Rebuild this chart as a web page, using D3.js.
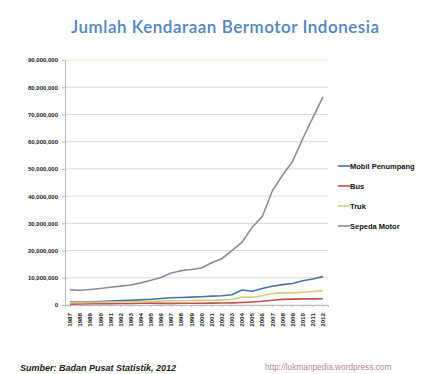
<!DOCTYPE html>
<html lang="en">
<head>
<meta charset="utf-8">
<script src="https://d3js.org/d3.v7.min.js" charset="utf-8"></script>
<style type="text/css">
	body{
		margin:0;
		background:#fff;
	}
</style>
</head>
<body>
<script type="text/javascript">
	//data from BPS, vehicles per year
	var years = ["1987","1988","1989","1990","1991","1992","1993","1994","1995","1996","1997","1998","1999",
		"2000","2001","2002","2003","2004","2005","2006","2007","2008","2009","2010","2011","2012"];
	var mobilPenumpang = [1170103,1073106,1182253,1313210,1494607,1590750,1700454,1890340,2107299,2409088,2639523,2769375,2897803,
		3038913,3261807,3403433,3792510,5494034,5076230,6035291,6877229,7489852,7910407,8891041,9548866,10432259];
	var bus = [303378,385731,434903,468550,504720,539943,568490,651608,688525,595419,611402,626680,644667,
		666280,687770,714222,798079,933199,1110255,1350047,1736087,2059187,2160973,2250109,2254406,2273821];
	var truk = [953694,892651,952391,1024296,1087940,1126262,1160539,1251986,1336177,1434783,1548397,1586721,1628531,
		1707134,1759547,1865398,2047022,2920828,2875116,3398956,4234236,4452343,4452343,4687789,4958738,5286061];
	var sepedaMotor = [5554305,5419531,5722291,6082966,6494871,6941000,7355114,8134903,9076831,10090805,11735797,12628991,13053148,
		13563017,15492148,17002130,19976376,23061021,28531831,32528758,41955128,47683681,52767093,61078188,68839341,76381183];
	var yTicks = [0,10000000,20000000,30000000,40000000,50000000,60000000,70000000,80000000,90000000];
	var seriesNames = ["Mobil Penumpang","Bus","Truk","Sepeda Motor"];
	var seriesValues = [mobilPenumpang, bus, truk, sepedaMotor];
	var colors = ["#4a6fa5","#c0504d","#cfcf7c","#8b8b9c"];

	var svg = d3.select('body')
		.append('svg')
		.attr('width', 437)
		.attr('height', 374);

	// plot box (don't use "top", it's window.top)
	var plotL = 65, plotR = 328, plotT = 60, plotB = 305;

	var x = d3.scaleBand()
		.domain(years)
		.range([plotL, plotR]);
	var y = d3.scaleLinear()
		.domain([0, 90000000])
		.range([plotB, plotT]);

	//title
	svg.append('text')
		.attr('x', 225)
		.attr('y', 33)
		.attr('text-anchor', 'middle')
		.attr('textLength', 308)
		.style('font-family', 'Lato, sans-serif')
		.style('font-size', '17px')
		.style('font-weight', '600')
		.style('fill', '#4f84bd')
		.text('Jumlah Kendaraan Bermotor Indonesia');

	//gridlines
	svg.append('g').selectAll('line')
		.data(yTicks)
		.enter()
		.append('line')
		.attr('x1', plotL)
		.attr('x2', plotR)
		.attr('y1', function(d) {return y(d);})
		.attr('y2', function(d) {return y(d);})
		.style('stroke', function(d) {return d == 90000000 ? '#f0dcc8' : '#d9d9d9';})
		.style('stroke-width', 1);

	// y axis
	var yAxis = d3.axisLeft(y)
		.tickValues(yTicks)
		.tickSize(3)
		.tickFormat(function(d) {return d == 0 ? "0" : d3.format(",")(d);});
	var gy = svg.append('g')
		.attr('transform', 'translate(' + plotL + ',0)')
		.call(yAxis);
	gy.select('.domain').style('stroke', '#bbb');
	gy.selectAll('.tick line').style('stroke', '#bbb');
	gy.selectAll('text')
		.attr('x', -7)
		.style('font-family', 'Liberation Sans, sans-serif')
		.style('font-size', '6px')
		.style('font-weight', 'bold')
		.style('fill', '#222');

	// x axis
	var xAxis = d3.axisBottom(x).tickSize(2);
	var gx = svg.append('g')
		.attr('transform', 'translate(0,' + plotB + ')')
		.call(xAxis);
	gx.select('.domain').style('stroke', '#bbb');
	gx.selectAll('.tick line').style('stroke', '#bbb');
	gx.selectAll('text')
		.attr('transform', 'rotate(-90)')
		.attr('x', -8)
		.attr('y', 0)
		.attr('dy', '0.35em')
		.attr('text-anchor', 'end')
		.style('font-family', 'Liberation Sans, sans-serif')
		.style('font-size', '6.2px')
		.style('font-weight', 'bold')
		.style('fill', '#222');

	var line = d3.line()
		.x(function(d, i) {return x(years[i]) + x.bandwidth() / 2;})
		.y(function(d) {return y(d);});

	svg.append('g').selectAll('path')
		.data(seriesValues)
		.enter()
		.append('path')
		.attr('d', line)
		.style('fill', 'none')
		.style('stroke', function(d, i) {return colors[i];})
		.style('stroke-width', 1.6);

	//legend
	var legend = svg.append('g').selectAll('g')
		.data(seriesNames)
		.enter()
		.append('g')
		.attr('transform', function(d, i) {return 'translate(338,' + (166 + i * 20) + ')';});
	legend.append('line')
		.attr('x1', 0)
		.attr('x2', 12)
		.style('stroke', function(d, i) {return colors[i];})
		.style('stroke-width', 1.6);
	legend.append('text')
		.attr('x', 12)
		.attr('dy', '0.35em')
		.style('font-family', 'Liberation Sans Narrow, Liberation Sans, sans-serif')
		.style('font-size', '7.5px')
		.style('font-weight', 'bold')
		.style('fill', '#111')
		.text(function(d) {return d;});

	//footer
	svg.append('text')
		.attr('x', 20)
		.attr('y', 371)
		.style('font-family', 'Liberation Sans Narrow, Liberation Sans, sans-serif')
		.style('font-size', '9px')
		.style('font-weight', 'bold')
		.style('font-style', 'italic')
		.style('fill', '#222')
		.text('Sumber: Badan Pusat Statistik, 2012');
	svg.append('text')
		.attr('x', 265)
		.attr('y', 370)
		.style('font-family', 'Liberation Sans, sans-serif')
		.style('font-size', '8.3px')
		.style('fill', '#b08898')
		.text('http://lukmanpedia.wordpress.com');
</script>
</body>
</html>
